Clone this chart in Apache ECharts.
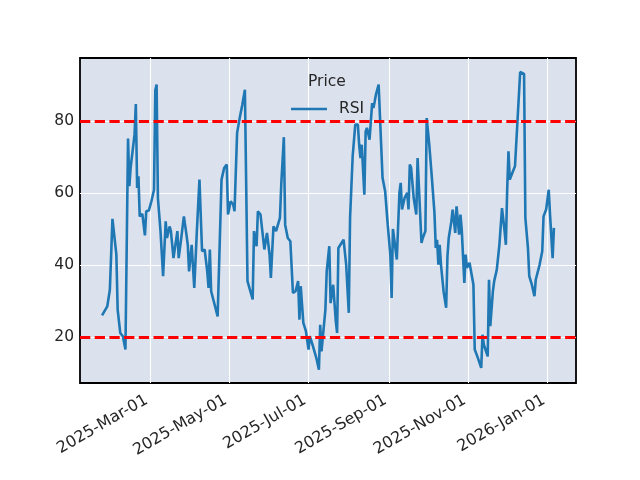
<!DOCTYPE html>
<html>
<head>
<meta charset="utf-8">
<script src="https://cdn.jsdelivr.net/npm/echarts@6.0.0/dist/echarts.min.js"></script>
<style>
  html, body { margin: 0; padding: 0; background: #fff; }
  #chart { width: 640px; height: 480px; }
</style>
</head>
<body>
<div id="chart"></div>
<script>
// RSI readings
var dates = [
  '2025-01-23','2025-01-27','2025-01-29','2025-01-30','2025-01-31','2025-02-03','2025-02-04','2025-02-05',
  '2025-02-06','2025-02-08','2025-02-10','2025-02-12','2025-02-13','2025-02-14','2025-02-17','2025-02-18',
  '2025-02-19','2025-02-20','2025-02-21','2025-02-23','2025-02-25','2025-02-26','2025-02-28','2025-03-02',
  '2025-03-04','2025-03-05','2025-03-06','2025-03-07','2025-03-09','2025-03-11','2025-03-13','2025-03-14',
  '2025-03-16','2025-03-17','2025-03-19','2025-03-20','2025-03-22','2025-03-23','2025-03-25','2025-03-27',
  '2025-03-29','2025-03-30','2025-03-31','2025-04-02','2025-04-04','2025-04-06','2025-04-08','2025-04-10',
  '2025-04-12','2025-04-14','2025-04-15','2025-04-16','2025-04-17','2025-04-19','2025-04-22','2025-04-25',
  '2025-04-27','2025-04-29','2025-04-30','2025-05-02','2025-05-04','2025-05-05','2025-05-07','2025-05-08',
  '2025-05-09','2025-05-11','2025-05-13','2025-05-15','2025-05-16','2025-05-19','2025-05-20','2025-05-22',
  '2025-05-23','2025-05-25','2025-05-28','2025-05-30','2025-06-01','2025-06-02','2025-06-04','2025-06-06',
  '2025-06-09','2025-06-10','2025-06-12','2025-06-13','2025-06-15','2025-06-17','2025-06-19','2025-06-21',
  '2025-06-23','2025-06-24','2025-06-25','2025-06-27','2025-06-29','2025-07-01','2025-07-02','2025-07-04',
  '2025-07-07','2025-07-09','2025-07-10','2025-07-11','2025-07-14','2025-07-15','2025-07-17','2025-07-18',
  '2025-07-20','2025-07-22','2025-07-23','2025-07-24','2025-07-28','2025-07-30','2025-08-01','2025-08-02',
  '2025-08-04','2025-08-05','2025-08-06','2025-08-08','2025-08-09','2025-08-10','2025-08-11','2025-08-13',
  '2025-08-14','2025-08-15','2025-08-17','2025-08-19','2025-08-20','2025-08-21','2025-08-22','2025-08-24',
  '2025-08-27','2025-08-29','2025-08-31','2025-09-02','2025-09-03','2025-09-04','2025-09-07','2025-09-09',
  '2025-09-10','2025-09-11','2025-09-13','2025-09-15','2025-09-16','2025-09-17','2025-09-18','2025-09-20',
  '2025-09-22','2025-09-23','2025-09-24','2025-09-26','2025-09-27','2025-09-29','2025-09-30','2025-10-02',
  '2025-10-04','2025-10-06','2025-10-07','2025-10-08','2025-10-09','2025-10-10','2025-10-11','2025-10-13',
  '2025-10-15','2025-10-16','2025-10-17','2025-10-19','2025-10-20','2025-10-21','2025-10-22','2025-10-23',
  '2025-10-25','2025-10-26','2025-10-27','2025-10-29','2025-10-30','2025-10-31','2025-11-02','2025-11-03',
  '2025-11-05','2025-11-06','2025-11-08','2025-11-11','2025-11-12','2025-11-13','2025-11-16','2025-11-17',
  '2025-11-18','2025-11-20','2025-11-21','2025-11-23','2025-11-25','2025-11-27','2025-11-29','2025-11-30',
  '2025-12-01','2025-12-02','2025-12-03','2025-12-05','2025-12-07','2025-12-09','2025-12-11','2025-12-14',
  '2025-12-15','2025-12-17','2025-12-18','2025-12-20','2025-12-22','2025-12-23','2025-12-26','2025-12-28',
  '2025-12-29','2025-12-31','2026-01-02','2026-01-03','2026-01-05','2026-01-06'
];
var rsi = [
  26.0, 28.5, 33.1, 33.6, 52.8, 42.9, 27.6, 27.1,
  21.1, 20.2, 16.5, 75.1, 61.9, 67.0, 76.2, 84.7,
  61.4, 64.6, 53.5, 54.2, 48.2, 54.9, 55.1, 57.7,
  60.9, 88.5, 90.1, 58.6, 49.4, 36.9, 52.1, 47.5,
  50.7, 49.4, 41.9, 41.9, 49.4, 41.9, 47.5, 53.5,
  48.4, 45.6, 38.2, 45.6, 33.6, 49.4, 63.7, 43.8,
  44.3, 38.2, 33.6, 44.3, 32.7, 29.9, 25.7, 63.7,
  66.9, 67.9, 54.0, 57.7, 56.8, 54.9, 76.7, 76.7,
  80.8, 84.5, 88.7, 35.5, 35.0, 30.4, 49.4, 45.2,
  54.9, 54.0, 44.3, 48.9, 42.9, 36.4, 50.7, 49.4,
  53.1, 62.3, 75.5, 51.2, 47.5, 46.6, 32.2, 32.7,
  35.5, 24.8, 34.1, 23.9, 21.6, 16.5, 20.2, 17.9,
  14.2, 10.9, 23.4, 16.0, 27.6, 38.2, 45.2, 29.4,
  34.5, 24.4, 21.1, 44.7, 47.0, 40.1, 26.7, 53.1,
  70.2, 70.7, 79.0, 79.0, 73.4, 69.7, 73.4, 59.5,
  77.1, 78.1, 74.8, 85.0, 83.6, 85.5, 87.5, 90.1,
  64.2, 60.5, 51.2, 42.9, 30.8, 50.0, 41.5, 60.0,
  62.8, 55.4, 58.6, 60.0, 55.4, 67.9, 67.0, 58.6,
  54.0, 69.7, 70.2, 46.1, 47.5, 49.4, 80.8, 73.4,
  64.2, 54.4, 44.7, 47.0, 40.1, 45.6, 40.1, 32.7,
  28.1, 42.4, 47.5, 52.1, 55.4, 55.8, 48.9, 56.3,
  48.4, 54.0, 49.8, 35.0, 42.9, 39.2, 40.6, 41.0,
  34.5, 16.5, 14.6, 11.4, 20.6, 17.9, 14.6, 35.9,
  23.0, 32.7, 35.5, 38.7, 45.6, 55.8, 49.4, 45.6,
  60.9, 71.6, 63.7, 65.6, 67.4, 80.4, 93.6, 93.1,
  53.1, 44.7, 36.9, 34.5, 31.3, 35.9, 40.1, 43.8,
  53.5, 55.4, 60.9, 54.0, 41.9, 50.3
];

// tick labels
var xTicks = ['2025-03-01', '2025-05-01', '2025-07-01', '2025-09-01', '2025-11-01', '2026-01-01'];
var yTicks = [20, 40, 60, 80];
var levels = [80, 20]; // overbought / oversold
var xRange = ['2025-01-06', '2026-01-23'];

var monthNames = ['Jan','Feb','Mar','Apr','May','Jun','Jul','Aug','Sep','Oct','Nov','Dec'];
function ts(d) { return echarts.time.parse(d).getTime(); }
var xTickValues = xTicks.map(ts);

var font = 'DejaVu Sans';

var myChart = echarts.init(document.getElementById('chart'));
myChart.setOption({
  animation: false,
  backgroundColor: '#ffffff',
  title: {
    text: 'Price',
    left: 308,
    top: 74,
    padding: 0,
    textStyle: { fontFamily: font, fontSize: 15.5, fontWeight: 'normal', color: '#262626' }
  },
  legend: {
    data: [{ name: 'RSI', icon: 'rect' }],
    left: 291,
    top: 101,
    padding: 0,
    itemWidth: 36,
    itemHeight: 2.6,
    textStyle: { fontFamily: font, fontSize: 15.5, color: '#262626', padding: [0, 0, 0, 7] }
  },
  grid: {
    left: 80,
    top: 58,
    width: 496,
    height: 325,
    show: true,
    backgroundColor: '#dce2ed',
    borderColor: '#000000',
    borderWidth: 1.8
  },
  xAxis: {
    type: 'value',
    min: ts(xRange[0]),
    max: ts(xRange[1]),
    splitLine: { show: false },
    axisLine: { show: false },
    axisTick: { show: false },
    axisLabel: {
      customValues: xTickValues,
      rotate: 30,
      margin: 14,
      padding: [0, 4, 0, 0],
      fontFamily: font,
      fontSize: 16,
      color: '#262626',
      formatter: function (v) {
        var d = new Date(v);
        var dd = ('0' + d.getDate()).slice(-2);
        return d.getFullYear() + '-' + monthNames[d.getMonth()] + '-' + dd;
      }
    }
  },
  yAxis: {
    type: 'value',
    min: 7.2,
    max: 97.5,
    splitLine: { show: false },
    axisLine: { show: false },
    axisTick: { show: false },
    axisLabel: {
      customValues: yTicks,
      margin: 6,
      fontFamily: font,
      fontSize: 15.5,
      color: '#262626'
    }
  },
  series: [
    {
      // white grid lines under the data
      name: 'grid',
      type: 'line',
      data: [],
      silent: true,
      markLine: {
        silent: true,
        z: 1,
        symbol: 'none',
        label: { show: false },
        lineStyle: { color: '#ffffff', width: 1.1, type: 'solid' },
        emphasis: { disabled: true },
        data: yTicks.map(function (v) { return { yAxis: v }; })
          .concat(xTickValues.map(function (t) { return { xAxis: t }; }))
      }
    },
    {
      name: 'RSI',
      type: 'line',
      data: dates.map(function (d, i) { return [ts(d), rsi[i]]; }),
      symbol: 'none',
      lineStyle: { color: '#1f77b4', width: 2.6 },
      itemStyle: { color: '#1f77b4' },
      markLine: {
        silent: true,
        symbol: 'none',
        label: { show: false },
        lineStyle: { color: '#ff0000', width: 2.8, type: [10.3, 4.4] },
        emphasis: { disabled: true },
        data: levels.map(function (v) { return { yAxis: v }; })
      }
    }
  ]
});
</script>
</body>
</html>
